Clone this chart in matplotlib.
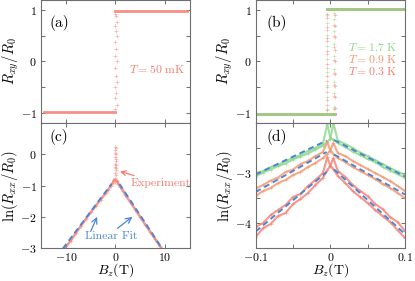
import numpy as np
import matplotlib
matplotlib.use("Agg")
import matplotlib.pyplot as plt

plt.rcParams['font.family'] = 'serif'
plt.rcParams['font.serif'] = ['cmr10', 'DejaVu Serif']
plt.rcParams['mathtext.fontset'] = 'cm'
plt.rcParams['axes.formatter.use_mathtext'] = True

RED = '#F67C70'
ORANGE = '#F4946A'
GREEN = '#8CD68A'
BLUE = '#4A86D4'
SPINE = '#6E6E6E'

# ---------------- (a) Rxy at 50 mK ----------------
a_low_B = [-14.3, 0.0]
a_low_R = [-0.98, -0.98]
a_high_B = [0.0, 14.3]
a_high_R = [0.98, 0.98]
a_jump_B = [0.0, 0.3, -0.1, 0.2, 0.0, 0.3, 0.1, -0.1, 0.3, 0.0, 0.2, 0.0, 0.3, 0.1, 0.0, 0.3, 0.2, 0.0]
a_jump_R = [-0.93, -0.85, -0.72, -0.62, -0.5, -0.4, -0.28, -0.12, 0.0, 0.1, 0.25, 0.38, 0.5, 0.6, 0.7, 0.78, 0.88, 0.93]

# ---------------- (b) Rxy at three temperatures ----------------
b_temps = ['1.7', '0.9', '0.3']
b_colors = [GREEN, ORANGE, RED]
b_Bc_down = [-0.0048, -0.0044, -0.0040]
b_Bc_up = [0.0050, 0.0054, 0.0058]
b_jump_R_down = [
    [-0.92, -0.7, -0.45, -0.2, 0.05, 0.3, 0.52, 0.75, 0.9],
    [-0.85, -0.6, -0.38, -0.12, 0.15, 0.4, 0.62, 0.85],
    [-0.95, -0.75, -0.5, -0.28, -0.05, 0.2, 0.45, 0.68, 0.92],
]
b_jump_R_up = [
    [-0.88, -0.62, -0.4, -0.15, 0.1, 0.35, 0.6, 0.82, 0.95],
    [-0.92, -0.68, -0.45, -0.22, 0.02, 0.28, 0.5, 0.72],
    [-0.9, -0.7, -0.48, -0.25, 0.0, 0.22, 0.48, 0.7, 0.9],
]
b_plateau = 1.03

# ---------------- (c) ln(Rxx/R0) at 50 mK ----------------
c_B = [-10.4, -9, -8, -7, -6, -5, -4, -3, -2, -1.5, -1, -0.6, -0.3,
       0.3, 0.6, 1, 1.5, 2, 3, 4, 5, 6, 7, 8, 9, 9.4]
c_lnR = [-3.05, -2.76, -2.52, -2.3, -2.08, -1.86, -1.65, -1.45, -1.25, -1.14, -1.02, -0.92, -0.82,
         -0.85, -0.95, -1.05, -1.16, -1.3, -1.53, -1.77, -2.01, -2.25, -2.48, -2.72, -2.95, -3.05]
c_spike_B = [-0.2, -0.1, 0.0, 0.1, 0.2, -0.1, 0.0, 0.1, 0.2, 0.0, 0.1, -0.1, 0.0, 0.2, 0.1, 0.0, 0.2, 0.1]
c_spike_lnR = [-0.9, -0.75, -0.6, -0.82, -0.5, -0.4, -0.3, -0.2, -0.65, -0.1, 0.0, 0.05, 0.15, -0.35, 0.2, 0.22, -0.15, -0.45]
c_fit_left_B = [-10.6, -0.8]
c_fit_left_lnR = [-3.02, -0.95]
c_fit_right_B = [0.8, 9.4]
c_fit_right_lnR = [-0.95, -3.02]

# ---------------- (d) ln(Rxx/R0), two sweeps per temperature ----------------
d_B = [-0.1, -0.09, -0.08, -0.07, -0.06, -0.05, -0.04, -0.03, -0.02, -0.01, -0.004, 0.0,
       0.004, 0.01, 0.02, 0.03, 0.04, 0.05, 0.06, 0.07, 0.08, 0.09, 0.1]
d_green_1 = [-3.00, -2.96, -2.88, -2.84, -2.76, -2.70, -2.64, -2.56, -2.50, -2.42, -2.02, -2.30,
             -2.33, -2.40, -2.48, -2.57, -2.64, -2.72, -2.78, -2.88, -2.95, -3.02, -3.10]
d_green_2 = [-3.07, -2.99, -2.93, -2.86, -2.81, -2.73, -2.67, -2.61, -2.53, -2.46, -2.37, -2.32,
             -2.00, -2.35, -2.42, -2.50, -2.59, -2.66, -2.74, -2.82, -2.90, -2.97, -3.04]
d_orange_1 = [-3.31, -3.24, -3.15, -3.09, -2.98, -2.93, -2.82, -2.76, -2.66, -2.58, -2.38, -2.55,
              -2.62, -2.70, -2.78, -2.88, -2.96, -3.04, -3.12, -3.22, -3.30, -3.40, -3.50]
d_orange_2 = [-3.46, -3.36, -3.30, -3.20, -3.14, -3.04, -2.98, -2.88, -2.80, -2.70, -2.62, -2.55,
              -2.40, -2.60, -2.66, -2.76, -2.84, -2.92, -3.00, -3.08, -3.16, -3.26, -3.36]
d_red_1 = [-4.08, -4.00, -3.84, -3.74, -3.64, -3.48, -3.42, -3.26, -3.14, -3.00, -2.68, -2.86,
           -2.92, -3.06, -3.20, -3.36, -3.48, -3.60, -3.74, -3.86, -3.98, -4.14, -4.30]
d_red_2 = [-4.28, -4.10, -4.02, -3.86, -3.80, -3.62, -3.52, -3.40, -3.24, -3.10, -2.94, -2.86,
           -2.70, -2.96, -3.08, -3.24, -3.36, -3.46, -3.62, -3.72, -3.88, -3.98, -4.16]
d_fit_left_B = [-0.1, -0.005]
d_fit_right_B = [0.005, 0.1]
d_fit_left = {'green': [-3.03, -2.35], 'orange': [-3.38, -2.58], 'red': [-4.17, -2.98]}
d_fit_right = {'green': [-2.34, -3.07], 'orange': [-2.63, -3.43], 'red': [-2.93, -4.22]}


def style_axis(ax):
    for s in ax.spines.values():
        s.set_color(SPINE)
        s.set_linewidth(0.8)
    ax.tick_params(which='both', direction='in', top=True, right=True,
                   color=SPINE, labelsize=8.5, length=3, width=0.7, pad=3)
    ax.tick_params(axis='x', pad=2)


fig = plt.figure(figsize=(4.15, 2.81), dpi=100)
ax_a = fig.add_axes([0.0988, 0.5623, 0.359, 0.4377])
ax_c = fig.add_axes([0.0988, 0.1174, 0.359, 0.4448])
ax_b = fig.add_axes([0.6161, 0.5623, 0.3598, 0.4377])
ax_d = fig.add_axes([0.6161, 0.1174, 0.3598, 0.4448])

mk = dict(marker='+', ms=2.2, mew=0.5, ls='none', alpha=0.6)
LBL = 10.5

# (a)
ax_a.plot(a_low_B, a_low_R, color=RED, lw=2, alpha=0.85)
ax_a.plot(a_high_B, a_high_R, color=RED, lw=2, alpha=0.85)
ax_a.plot(a_jump_B, a_jump_R, color=RED, **mk)
ax_a.text(2.7, -0.15, r'$T=50\ \mathrm{mK}$', color=RED, fontsize=8.5, va='center', ha='left')
ax_a.set_xlim(-15, 15)
ax_a.set_ylim(-1.2, 1.2)
ax_a.set_xticks([-10, 0, 10])
ax_a.set_xticklabels([])
ax_a.set_yticks([-1, -0.5, 0, 0.5, 1])
ax_a.set_yticklabels([r'$-1$', '', r'$0$', '', r'$1$'])
ax_a.set_ylabel(r'$R_{xy}/R_0$', fontsize=LBL, labelpad=0)
ax_a.text(0.06, 0.81, '(a)', transform=ax_a.transAxes, fontsize=11, va='center')
style_axis(ax_a)

# (b)
for i in [2, 1, 0]:
    c = b_colors[i]
    ax_b.plot([-0.1, b_Bc_up[i]], [-b_plateau, -b_plateau], color=c, lw=2, alpha=0.85)
    ax_b.plot([b_Bc_down[i], 0.1], [b_plateau, b_plateau], color=c, lw=2, alpha=0.85)
    ax_b.plot([b_Bc_down[i]] * len(b_jump_R_down[i]), b_jump_R_down[i], color=c, **mk)
    ax_b.plot([b_Bc_up[i]] * len(b_jump_R_up[i]), b_jump_R_up[i], color=c, **mk)
for i, (t, c) in enumerate(zip(b_temps, b_colors)):
    ax_b.text(0.023, 0.29 - 0.235 * i, r'$T=%s\ \mathrm{K}$' % t, color=c, fontsize=8.5,
              va='center', ha='left')
ax_b.set_xlim(-0.1, 0.1)
ax_b.set_ylim(-1.2, 1.2)
ax_b.set_xticks([-0.1, -0.05, 0, 0.05, 0.1])
ax_b.set_xticklabels([])
ax_b.set_yticks([-1, -0.5, 0, 0.5, 1])
ax_b.set_yticklabels([r'$-1$', '', r'$0$', '', r'$1$'])
ax_b.set_ylabel(r'$R_{xy}/R_0$', fontsize=LBL, labelpad=0)
ax_b.text(0.07, 0.81, '(b)', transform=ax_b.transAxes, fontsize=11, va='center')
style_axis(ax_b)

# (c)
ax_c.plot(c_B, c_lnR, color=RED, lw=1.8, alpha=0.8)
ax_c.plot(c_B, c_lnR, color=RED, **mk)
ax_c.plot(c_spike_B, c_spike_lnR, color=RED, **mk)
ax_c.plot(c_fit_left_B, c_fit_left_lnR, color=BLUE, lw=1.4, ls=(0, (3, 2)))
ax_c.plot(c_fit_right_B, c_fit_right_lnR, color=BLUE, lw=1.4, ls=(0, (3, 2)))
ax_c.annotate('Experiment', xy=(0.9, -0.55), xytext=(3.0, -0.93), color=RED, fontsize=8.5,
              va='center', ha='left',
              arrowprops=dict(arrowstyle='->', color=RED, lw=0.9, shrinkA=0, shrinkB=0))
ax_c.text(-0.8, -2.63, 'Linear Fit', color=BLUE, fontsize=8.5, va='center', ha='center')
ax_c.annotate('', xy=(-3.7, -2.0), xytext=(-5.0, -2.47),
              arrowprops=dict(arrowstyle='->', color=BLUE, lw=0.9, shrinkA=0, shrinkB=0))
ax_c.annotate('', xy=(3.4, -2.0), xytext=(0.4, -2.37),
              arrowprops=dict(arrowstyle='->', color=BLUE, lw=0.9, shrinkA=0, shrinkB=0))
ax_c.set_xlim(-15, 15)
ax_c.set_ylim(-3, 1)
ax_c.set_xticks([-10, 0, 10])
ax_c.set_xticklabels([r'$-10$', r'$0$', r'$10$'])
ax_c.set_yticks([-3, -2, -1, 0])
ax_c.set_yticklabels([r'$-3$', r'$-2$', r'$-1$', r'$0$'])
ax_c.set_ylabel(r'$\ln(R_{xx}/R_0)$', fontsize=LBL, labelpad=0)
ax_c.set_xlabel(r'$B_z(\mathrm{T})$', fontsize=10, labelpad=-1)
ax_c.text(0.06, 0.89, '(c)', transform=ax_c.transAxes, fontsize=11, va='center')
style_axis(ax_c)

# (d)
curves = [('green', GREEN, d_green_1, d_green_2),
          ('orange', ORANGE, d_orange_1, d_orange_2),
          ('red', RED, d_red_1, d_red_2)]
for name, c, y1, y2 in curves:
    for y in (y1, y2):
        ax_d.plot(d_B, y, color=c, lw=1.5, alpha=0.8)
        ax_d.plot(d_B, y, color=c, **mk)
for name, c, y1, y2 in curves:
    ax_d.plot(d_fit_left_B, d_fit_left[name], color=BLUE, lw=1.4, ls=(0, (3, 2)))
    ax_d.plot(d_fit_right_B, d_fit_right[name], color=BLUE, lw=1.4, ls=(0, (3, 2)))
ax_d.set_xlim(-0.1, 0.1)
ax_d.set_ylim(-4.5, -2)
ax_d.set_xticks([-0.1, -0.05, 0, 0.05, 0.1])
ax_d.set_xticklabels([r'$-0.1$', '', r'$0$', '', r'$0.1$'])
ax_d.set_yticks([-4.5, -4, -3.5, -3, -2.5, -2])
ax_d.set_yticklabels(['', r'$-4$', '', r'$-3$', '', ''])
ax_d.set_ylabel(r'$\ln(R_{xx}/R_0)$', fontsize=LBL, labelpad=0)
ax_d.set_xlabel(r'$B_z(\mathrm{T})$', fontsize=10, labelpad=-1)
ax_d.text(0.07, 0.89, '(d)', transform=ax_d.transAxes, fontsize=11, va='center')
style_axis(ax_d)

fig.savefig('out.png', dpi=100)
